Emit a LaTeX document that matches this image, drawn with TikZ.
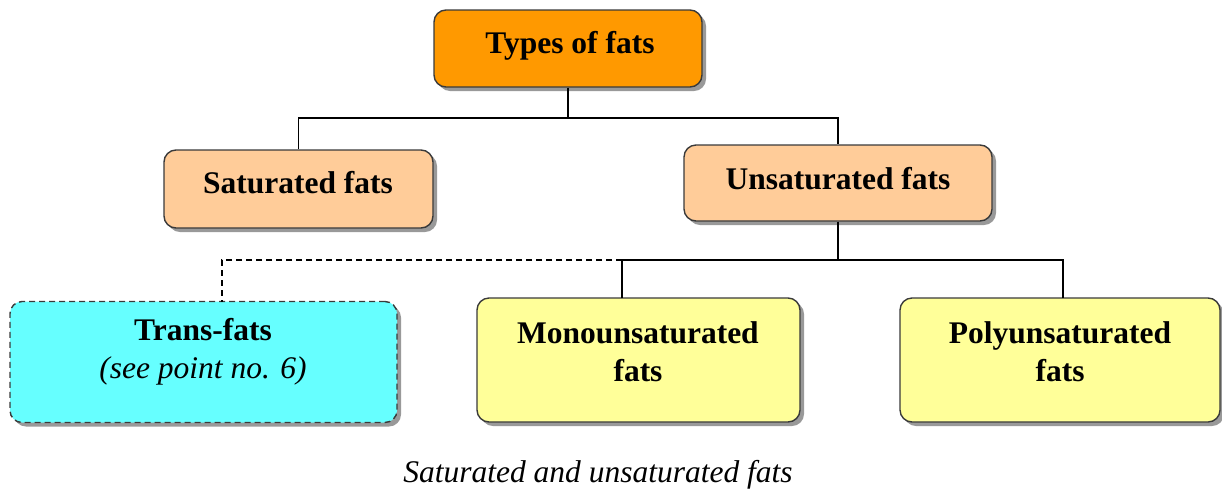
\documentclass[tikz,border=0pt]{standalone}
\usepackage{fontspec}
\setmainfont{Liberation Serif}
\usetikzlibrary{shadows}
\definecolor{orangebox}{HTML}{FF9900}
\definecolor{peach}{HTML}{FFCC99}
\definecolor{cyanbox}{HTML}{66FFFF}
\definecolor{yellowbox}{HTML}{FFFF99}
\definecolor{edge}{HTML}{3A3A3A}
\tikzset{
  box/.style={draw=edge, line width=1.4pt, rounded corners=12pt, inner sep=0pt,
    drop shadow={shadow xshift=4pt, shadow yshift=-4pt, fill=gray!80, opacity=1}},
  lbl/.style={anchor=base, inner sep=0pt, font=\bfseries\fontsize{31.5}{36}\selectfont},
  ilbl/.style={anchor=base, inner sep=0pt, font=\itshape\fontsize{31.5}{36}\selectfont},
  conn/.style={line width=1.3pt, black},
  dashline/.style={dash pattern=on 6pt off 4pt},
}
\begin{document}
\begin{tikzpicture}[x=1pt,y=-1pt]
\useasboundingbox (0,0) rectangle (1222,491);
% boxes
\node[box, fill=orangebox, minimum width=268pt, minimum height=77pt] (types) at (568,48.5) {};
\node[box, fill=peach, minimum width=269pt, minimum height=78pt] (sat) at (298.5,189) {};
\node[box, fill=peach, minimum width=308pt, minimum height=76pt] (unsat) at (838,183) {};
\node[box, dashline, fill=cyanbox, minimum width=387pt, minimum height=121pt] (trans) at (203.5,362) {};
\node[box, fill=yellowbox, minimum width=323pt, minimum height=124pt] (mono) at (638.5,360) {};
\node[box, fill=yellowbox, minimum width=320pt, minimum height=124pt] (poly) at (1060,360) {};
% texts
\node[lbl] (typest) at (570,53) {Types of fats};
\node[lbl] (satt) at (298,193) {Saturated fats};
\node[lbl] (unsatt) at (838,189) {Unsaturated fats};
\node[lbl] (transa) at (203,340) {Trans-fats};
\node[ilbl] (transb) at (203,378) {(see point no. 6)};
\node[lbl] (monoa) at (638,343) {Monounsaturated};
\node[lbl] (monob) at (638,381) {fats};
\node[lbl] (polya) at (1060,343) {Polyunsaturated};
\node[lbl] (polyb) at (1060,381) {fats};
% connectors
\coordinate (j1) at (568,118);
\coordinate (j2) at (838,260);
\coordinate (mtop) at (622,298);
\coordinate (ptop) at (1063,298);
\coordinate (ttop) at (222,301.5);
\coordinate (dstart) at (622,260);
\draw[conn] (types.south) -- (j1);
\draw[conn] (sat.north) |- (j1) -| (unsat.north);
\draw[conn] (unsat.south) -- (j2);
\draw[conn] (mtop) |- (j2) -| (ptop);
\draw[conn, dashline] (dstart) -| (ttop);
% caption
\node[ilbl] (cap) at (598,482) {Saturated and unsaturated fats};
\end{tikzpicture}
\end{document}
